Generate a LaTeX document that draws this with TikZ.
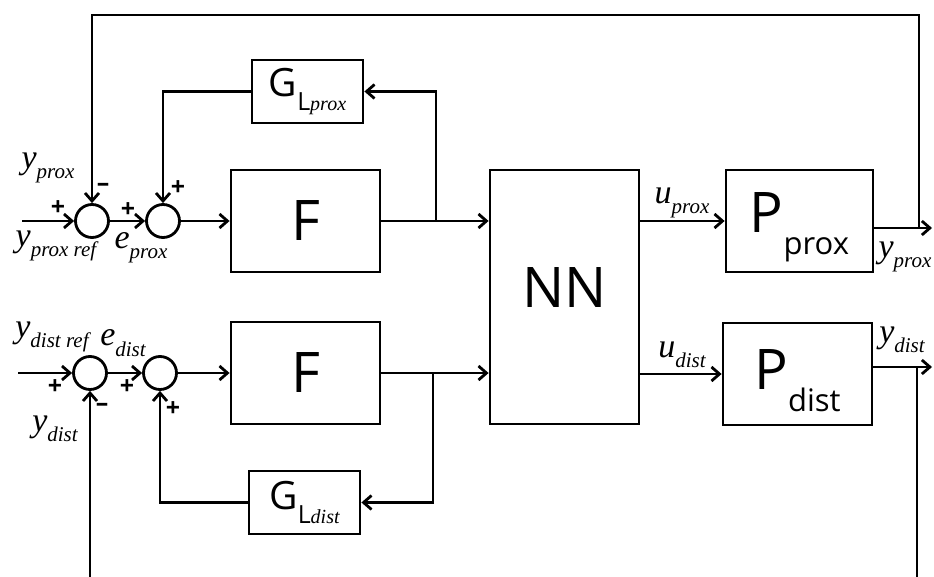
\documentclass[tikz,border=0pt]{standalone}
\usepackage{fontspec}
\setmainfont{Liberation Serif}
\newfontfamily\boxfont{Open Sans}
\usetikzlibrary{arrows.meta}

\tikzset{
  blk/.style={draw, line width=2.8pt, inner sep=0pt, font=\boxfont},
  sumpt/.style={draw, circle, line width=2.8pt, minimum size=33pt, inner sep=0pt},
  sig/.style={inner sep=0pt},
  sgn/.style={inner sep=0pt, font=\boxfont\bfseries\fontsize{25}{25}\selectfont},
  wire/.style={line width=2.8pt},
  arr/.style={wire, -{Straight Barb[length=8pt,width=14pt]}},
}
% signal label: italic letter with lowered subscript
\newcommand{\sg}[2]{\fontsize{34}{34}\selectfont\itshape #1\raisebox{-0.3em}{\fontsize{21}{21}\selectfont #2}}
% plant label with sans subscript
\newcommand{\pl}[2]{\fontsize{56}{56}\selectfont\rule{0pt}{53pt}#1\raisebox{-0.4em}{\fontsize{31}{31}\selectfont #2}}
% loop filter label
\newcommand{\gl}[1]{\fontsize{39}{39}\selectfont G\raisebox{-0.38em}{\fontsize{25}{25}\selectfont L{\rmfamily\itshape\fontsize{20}{20}\selectfont #1}}}

\begin{document}
\begin{tikzpicture}[x=1pt,y=-1pt]
\useasboundingbox (0,0) rectangle (934,577);

% blocks
\node[blk, minimum width=149pt, minimum height=102pt] (Fp) at (305.5,221) {\fontsize{56}{56}\selectfont F};
\node[blk, minimum width=149pt, minimum height=102pt] (Fd) at (305.5,373) {\fontsize{56}{56}\selectfont F};
\node[blk, minimum width=149pt, minimum height=254pt] (NN) at (564.5,297) {\fontsize{56}{56}\selectfont\rule[-18pt]{0pt}{18pt}NN};
\node[blk, minimum width=147pt, minimum height=102pt] (Pp) at (799.5,221) {\pl{P}{prox}};
\node[blk, minimum width=149pt, minimum height=102pt] (Pd) at (797.5,374) {\pl{P}{dist}};
\node[blk, minimum width=111pt, minimum height=63pt] (Gp) at (307.5,91.5) {\gl{prox}};
\node[blk, minimum width=111pt, minimum height=63pt] (Gd) at (304.5,502.5) {\gl{dist}};

% summing points
\node[sumpt] (s1p) at (92,221) {};
\node[sumpt] (s2p) at (163,221) {};
\node[sumpt] (s1d) at (90,373) {};
\node[sumpt] (s2d) at (160,373) {};

% free ends and branch points
\coordinate (inp) at (22,221);
\coordinate (ind) at (18,373);
\coordinate (bp) at (436,221);
\coordinate (bd) at (433,373);
\coordinate (yp) at (919,228);
\coordinate (tr) at (919,15);
\coordinate (outp) at (932,228);
\coordinate (outd) at (932,367);
\coordinate (yd) at (917,367);
\coordinate (br) at (917,577);
\coordinate (bl) at (90,577);

% prox loop
\draw[arr] (inp) -- (s1p);
\draw[arr] (s1p) -- (s2p);
\draw[arr] (s2p) -- (Fp);
\draw[arr] (Fp.east) -- (NN.west |- Fp.east);
\draw[arr] (bp) |- (Gp.east);
\draw[arr] (Gp.west) -| (s2p.north);
\draw[arr] (NN.east |- Pp.west) -- (Pp.west);
\draw[arr] (Pp.east |- outp) -- (outp);
\draw[arr] (yp) -- (tr) -| (s1p.north);

% dist loop
\draw[arr] (ind) -- (s1d);
\draw[arr] (s1d) -- (s2d);
\draw[arr] (s2d) -- (Fd);
\draw[arr] (Fd.east) -- (NN.west |- Fd.east);
\draw[arr] (bd) |- (Gd.east);
\draw[arr] (Gd.west) -| (s2d.south);
\draw[arr] (NN.east |- Pd.west) -- (Pd.west);
\draw[arr] (Pd.east |- outd) -- (outd);
\draw[wire] (yd) -- (br);
\draw[arr] (bl) -- (s1d.south);

% signal labels
\node[sig] (lyp) at (48,168) {\sg{y}{prox}};
\node[sig] (lypr) at (56,246) {\sg{y}{prox ref}};
\node[sig] (lep) at (141,248) {\sg{e}{prox}};
\node[sig] (lydr) at (52,337) {\sg{y}{dist ref}};
\node[sig] (led) at (123,343) {\sg{e}{dist}};
\node[sig] (lyd) at (55,429) {\sg{y}{dist}};
\node[sig] (lup) at (682,203) {\sg{u}{prox}};
\node[sig] (lud) at (682,355) {\sg{u}{dist}};
\node[sig] (lyo) at (905,257) {\sg{y}{prox}};
\node[sig] (lydo) at (902,340) {\sg{y}{dist}};

% signs
\node[sgn] (p1) at (58,208) {+};
\node[sgn] (m1) at (103,187) {–};
\node[sgn] (p2) at (128,210) {+};
\node[sgn] (p3) at (178,188) {+};
\node[sgn] (p4) at (55,387) {+};
\node[sgn] (m2) at (102,407) {–};
\node[sgn] (p5) at (127,387) {+};
\node[sgn] (p6) at (173,409) {+};
\end{tikzpicture}
\end{document}
